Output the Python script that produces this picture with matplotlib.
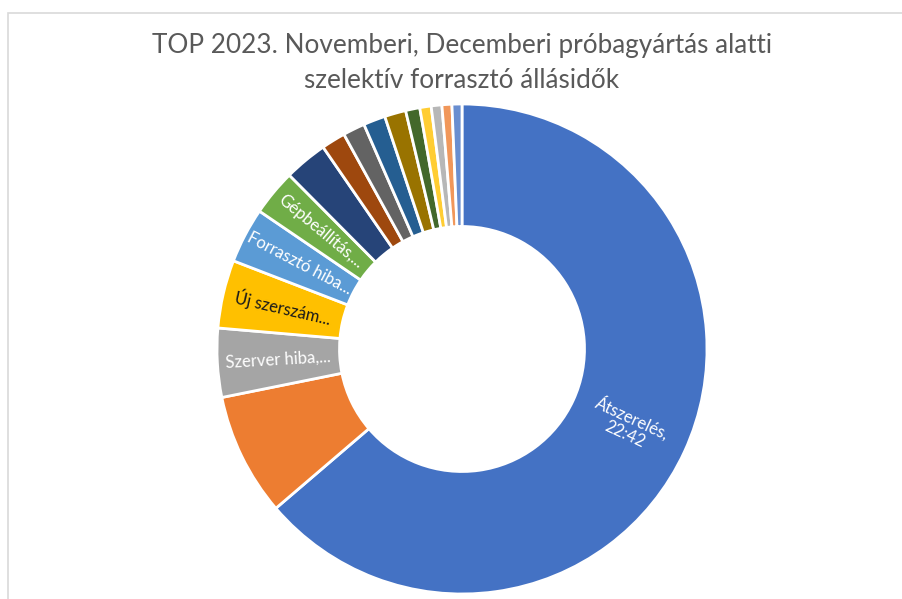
import matplotlib
matplotlib.use("Agg")
import matplotlib.pyplot as plt
from matplotlib.patches import Rectangle
import numpy as np

plt.rcParams['font.family'] = ['Lato', 'DejaVu Sans']

# downtime per cause, minutes (largest first, clockwise from 12 o'clock)
minutes = [1362, 173, 97, 96, 78, 65, 61, 34, 31, 31, 30, 20, 16, 15, 14, 14]
names = ["Átszerelés", None, "Szerver hiba,...", "Új szerszám...", "Forrasztó hiba...",
         "Gépbeállítás,...", None, None, None, None, None, None, None, None, None, None]
colors = ["#4472C4", "#ED7D31", "#A5A5A5", "#FFC000", "#5B9BD5", "#70AD47",
          "#264478", "#9E480E", "#636363", "#255E91", "#997300", "#43682B",
          "#FFCD33", "#B7B7B7", "#F1975A", "#698ED0"]
text_colors = ["white", None, "white", "#1a1a1a", "white", "white"] + [None] * 10

W, H = 903, 599
fig = plt.figure(figsize=(W / 100, H / 100), dpi=100)

# chart area frame (only top and left edges are visible)
fig.patches.append(Rectangle((8 / W, -0.1), 1.2, 1 - 13 / H + 0.1, transform=fig.transFigure,
                             fill=False, edgecolor="#d9d9d9", linewidth=1.2))

cx, cy, R = 462, 349, 245
ax = fig.add_axes([(cx - R) / W, (H - cy - R) / H, 2 * R / W, 2 * R / H])
ax.pie(minutes, colors=colors, startangle=90, counterclock=False, radius=1,
       wedgeprops=dict(width=0.5, edgecolor="white", linewidth=2))
ax.set_xlim(-1, 1)
ax.set_ylim(-1, 1)
ax.set_aspect("equal")
ax.axis("off")

total = sum(minutes)
start = 90.0
for i, m in enumerate(minutes):
    span = m / total * 360
    mid = start - span / 2
    start -= span
    if names[i] is None:
        continue
    label = names[i]
    if i == 0:
        label = f"{names[i]},\n{m // 60}:{m % 60:02d}"
    r = 0.75
    x, y = r * np.cos(np.radians(mid)), r * np.sin(np.radians(mid))
    rot = mid
    if np.cos(np.radians(mid)) < 0:
        rot = mid + 180
    rot = (rot + 180) % 360 - 180
    ax.text(x, y, label, rotation=rot, rotation_mode="anchor", ha="center", va="center",
            multialignment="center", color=text_colors[i], fontsize=12, linespacing=1.05)

fig.text(462 / W, 1 - 45 / H, "TOP 2023. Novemberi, Decemberi próbagyártás alatti",
         ha="center", va="center", fontsize=18.8, color="#595959")
fig.text(462 / W, 1 - 80 / H, "szelektív forrasztó állásidők",
         ha="center", va="center", fontsize=18.8, color="#595959")

fig.savefig("out.png", dpi=100)
